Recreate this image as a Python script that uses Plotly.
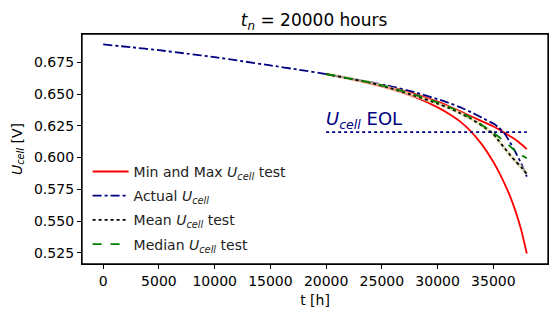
import plotly.graph_objects as go

# ---- data ----
t_actual = [0, 2500, 5000, 7500, 10000, 12500, 15000, 17500, 20000, 22000, 24000,
            26000, 28000, 30000, 31000, 32000, 33000, 34000, 35000, 35500, 36000,
            36500, 37000, 37500, 38000]
u_actual = [0.6890, 0.6868, 0.6845, 0.6818, 0.6790, 0.6758, 0.6725, 0.6692, 0.6657,
            0.6626, 0.6593, 0.6557, 0.6513, 0.6460, 0.6430, 0.6397, 0.6357, 0.6312,
            0.6268, 0.6235, 0.6190, 0.6120, 0.6040, 0.5953, 0.5851]

t_test = [20000, 22000, 24000, 26000, 28000, 30000, 31000, 32000, 33000, 34000,
          35000, 35500, 36000, 36500, 37000, 37500, 38000]
u_max = [0.6657, 0.6624, 0.6588, 0.6548, 0.6500, 0.6440, 0.6404, 0.6365, 0.6325,
         0.6285, 0.6245, 0.6222, 0.6195, 0.6168, 0.6140, 0.6105, 0.6067]
u_min = [0.6657, 0.6622, 0.6582, 0.6535, 0.6475, 0.6395, 0.6345, 0.6285, 0.6205,
         0.6100, 0.5965, 0.5885, 0.5795, 0.5695, 0.5575, 0.5430, 0.5245]
u_mean = [0.6657, 0.6623, 0.6588, 0.6540, 0.6485, 0.6425, 0.6390, 0.6350, 0.6305,
          0.6250, 0.6185, 0.6130, 0.6075, 0.6020, 0.5970, 0.5925, 0.5870]
u_median = [0.6657, 0.6624, 0.6590, 0.6545, 0.6493, 0.6435, 0.6400, 0.6360, 0.6312,
            0.6255, 0.6195, 0.6162, 0.6127, 0.6088, 0.6048, 0.6020, 0.5995]

t_eol = [20000, 38000]
u_eol = [0.62, 0.62]

x_ticks = [0, 5000, 10000, 15000, 20000, 25000, 30000, 35000]
y_ticks = [0.525, 0.550, 0.575, 0.600, 0.625, 0.650, 0.675]

FONT = "DejaVu Sans"
NAVY = "#000080"
SMOOTH = dict(shape="spline", smoothing=0.5)

fig = go.Figure()

fig.add_trace(go.Scatter(x=t_test, y=u_max, mode="lines", line=dict(color="red", width=1.8, **SMOOTH),
                         name="Min and Max <i>U<sub>cell</sub></i> test", legendgroup="a"))
fig.add_trace(go.Scatter(x=t_test, y=u_min, mode="lines", line=dict(color="red", width=1.8, **SMOOTH),
                         showlegend=False, legendgroup="a"))
fig.add_trace(go.Scatter(x=t_actual, y=u_actual, mode="lines",
                         line=dict(color=NAVY, width=1.8, dash="dashdot", **SMOOTH),
                         name="Actual <i>U<sub>cell</sub></i>", legendgroup="b"))
fig.add_trace(go.Scatter(x=t_test, y=u_mean, mode="lines",
                         line=dict(color="rgba(225,218,170,0.7)", width=3.5, **SMOOTH),
                         showlegend=False, hoverinfo="skip"))
fig.add_trace(go.Scatter(x=t_test, y=u_mean, mode="lines",
                         line=dict(color="black", width=1.8, dash="dot", **SMOOTH),
                         name="Mean <i>U<sub>cell</sub></i> test", legendgroup="c"))
fig.add_trace(go.Scatter(x=t_test, y=u_median, mode="lines",
                         line=dict(color="green", width=1.8, dash="dash", **SMOOTH),
                         name="Median <i>U<sub>cell</sub></i> test", legendgroup="d"))
fig.add_trace(go.Scatter(x=t_eol, y=u_eol, mode="lines",
                         line=dict(color=NAVY, width=1.8, dash="dot"), showlegend=False))

fig.add_annotation(x=t_eol[0], y=u_eol[0], xref="x", yref="y", xanchor="left", yanchor="bottom",
                   text="<i>U<sub>cell</sub></i> EOL", showarrow=False,
                   font=dict(family=FONT, size=18, color=NAVY), xshift=-2, yshift=-2)

axis_common = dict(showgrid=False, zeroline=False, showline=True, linecolor="black",
                   linewidth=1.3, mirror=True, ticks="outside", ticklen=4, tickcolor="black",
                   tickwidth=1.3, automargin=False,
                   tickfont=dict(family=FONT, size=14, color="black"))

fig.update_xaxes(range=[-1900, 39900], tickvals=x_ticks,
                 ticktext=[str(v) for v in x_ticks],
                 title=dict(text="t [h]", font=dict(family=FONT, size=14, color="black"), standoff=7),
                 **axis_common)
fig.update_yaxes(range=[0.51628, 0.69723], tickvals=y_ticks,
                 ticktext=[f"{v:.3f}" for v in y_ticks],
                 title=dict(text="<i>U<sub>cell</sub></i> [V]", font=dict(family=FONT, size=14, color="black"), standoff=8),
                 **axis_common)

fig.add_shape(type="rect", xref="paper", yref="paper", x0=0, y0=0, x1=1, y1=1,
              line=dict(color="black", width=1.3), fillcolor="rgba(0,0,0,0)", layer="above")

fig.update_layout(
    width=556, height=318,
    margin=dict(l=82, r=8, t=34, b=54, autoexpand=False),
    paper_bgcolor="white", plot_bgcolor="white",
    title=dict(text="<i>t<sub>n</sub></i> = 20000 hours", x=0.565, xanchor="center",
               y=0.937, yanchor="middle", font=dict(family=FONT, size=17, color="black")),
    legend=dict(x=0.012, y=0.47, xanchor="left", yanchor="top", bgcolor="rgba(0,0,0,0)",
                font=dict(family=FONT, size=14, color="#222"), tracegroupgap=3,
                itemwidth=36),
    showlegend=True,
)

fig.write_html("out.html", config={"displayModeBar": False},
               post_script="document.body.style.margin='0';document.body.style.padding='0';")
